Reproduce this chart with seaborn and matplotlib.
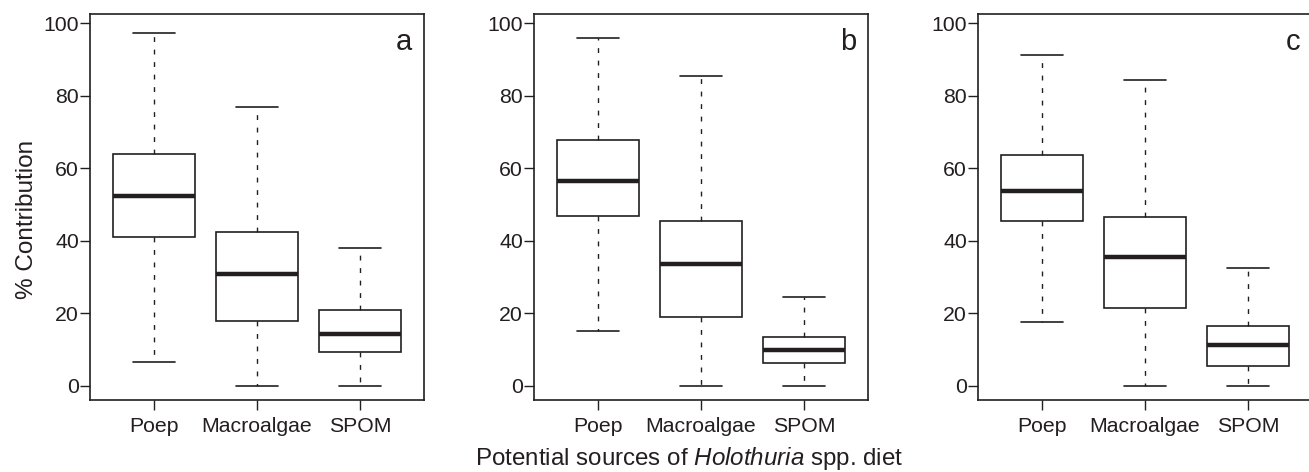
import pandas as pd
import numpy as np
import matplotlib
matplotlib.use("Agg")
import matplotlib.pyplot as plt
import seaborn as sns

# -----------------------------
# Data (five-number summaries)
# -----------------------------
sources = ["Poep", "Macroalgae", "SPOM"]
panels = ["a", "b", "c"]

low_a = [6.5, 0.0, 0.0]
q1_a = [41.0, 18.0, 9.3]
med_a = [52.3, 31.0, 14.3]
q3_a = [63.9, 42.4, 20.9]
high_a = [97.3, 76.9, 38.0]

low_b = [15.1, 0.0, 0.0]
q1_b = [46.8, 19.0, 6.2]
med_b = [56.5, 33.6, 10.0]
q3_b = [67.9, 45.6, 13.4]
high_b = [96.1, 85.6, 24.5]

low_c = [17.6, 0.0, 0.0]
q1_c = [45.4, 21.6, 5.6]
med_c = [53.7, 35.6, 11.4]
q3_c = [63.7, 46.6, 16.4]
high_c = [91.4, 84.3, 32.5]

yticks = [0, 20, 40, 60, 80, 100]

summaries = {
    "a": [low_a, q1_a, med_a, q3_a, high_a],
    "b": [low_b, q1_b, med_b, q3_b, high_b],
    "c": [low_c, q1_c, med_c, q3_c, high_c],
}

rows = []
for p in panels:
    for stat in summaries[p]:
        for src, v in zip(sources, stat):
            rows.append({"panel": p, "source": src, "value": v})
df = pd.DataFrame(rows)

# -----------------------------
# Plot
# -----------------------------
sns.set_style("white")
plt.rcParams["font.family"] = ["Liberation Sans", "DejaVu Sans"]
plt.rcParams["mathtext.fontset"] = "custom"
plt.rcParams["mathtext.rm"] = "Liberation Sans"
plt.rcParams["mathtext.it"] = "Liberation Sans:italic"
ink = "#231f20"

W, H = 1309, 472
fig = plt.figure(figsize=(W / 100, H / 100), dpi=100)

lefts = [90, 534, 978]
for p, left in zip(panels, lefts):
    ax = fig.add_axes([left / W, 72 / H, 334 / W, 386 / H])
    sns.boxplot(
        data=df[df["panel"] == p], x="source", y="value", order=sources,
        whis=(0, 100), width=0.8, color="white", linecolor=ink,
        linewidth=1.2, showfliers=False, ax=ax,
        medianprops=dict(linewidth=3.2, color=ink),
        whiskerprops=dict(linewidth=1.0, linestyle=(0, (3.5, 5.5)), color=ink),
        capprops=dict(linewidth=1.2, color=ink),
    )
    ax.set_ylim(-3.9, 102.6)
    ax.set_xlim(-0.62, 2.62)
    ax.set_yticks(yticks)
    ax.tick_params(axis="both", direction="out", length=7, width=1,
                   bottom=True, left=True,
                   color=ink, labelcolor=ink, labelsize=15.3)
    ax.tick_params(axis="y", pad=1)
    ax.tick_params(axis="x", pad=5)
    for s in ax.spines.values():
        s.set_visible(True)
        s.set_color(ink)
        s.set_linewidth(1.2)
    ax.set_xlabel("")
    ax.set_ylabel("")
    ax.text(0.965, 0.965, p, transform=ax.transAxes, ha="right", va="top",
            fontsize=21, color=ink)
    if p == "a":
        ax.set_ylabel("% Contribution", fontsize=17.5, color=ink)
        ax.yaxis.set_label_coords(-0.156, 0.467)

fig.text(689 / W, (H - 465) / H, "Potential sources of $\\it{Holothuria}$ spp. diet",
         ha="center", va="baseline", fontsize=17.4, color=ink)

plt.savefig("out.png", dpi=100)
plt.close()
